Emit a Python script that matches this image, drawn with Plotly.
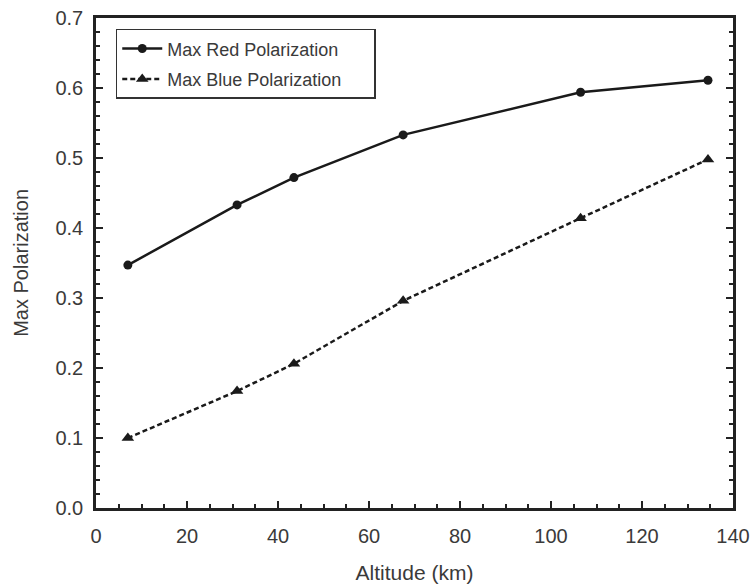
import plotly.graph_objects as go

altitude = [7, 31, 43.5, 67.5, 106.5, 134.5]
red_pol = [0.347, 0.433, 0.472, 0.533, 0.594, 0.611]
blue_pol = [0.100, 0.167, 0.206, 0.296, 0.414, 0.498]

font_fam = "Liberation Sans, Arial, sans-serif"
txt = "#3a3a3a"

fig = go.Figure()
fig.add_trace(go.Scatter(
    x=altitude, y=red_pol, name="Max Red Polarization\u00a0\u00a0\u00a0\u00a0\u00a0\u00a0", mode="lines+markers",
    legendgroup="red",
    line=dict(color="#1a1a1a", width=2.5), marker=dict(symbol="circle", size=9, color="#1a1a1a")))
fig.add_trace(go.Scatter(
    x=altitude, y=blue_pol, name="Max Blue Polarization\u00a0\u00a0\u00a0\u00a0\u00a0", mode="lines+markers",
    legendgroup="blue",
    line=dict(color="#1a1a1a", width=2.5, dash="5px,3px"),
    marker=dict(symbol="triangle-up", size=11, color="#1a1a1a")))

fig.update_layout(
    width=753, height=586,
    margin=dict(l=96, r=20, t=18, b=78),
    paper_bgcolor="white", plot_bgcolor="white",
    font=dict(family=font_fam, color=txt, size=20),
    legend=dict(x=0.031, y=0.978, xanchor="left", yanchor="top",
                bordercolor="#333", borderwidth=1.5, bgcolor="white",
                font=dict(size=18, color=txt), tracegroupgap=4,
                itemwidth=40),
    showlegend=True,
    annotations=[dict(text="Max Polarization", textangle=-90, xref="paper", yref="paper",
                      x=-0.118, y=0.5, xanchor="center", yanchor="middle", showarrow=False,
                      font=dict(size=20, color=txt))],
)
fig.update_xaxes(
    range=[0, 140], tickmode="linear", tick0=0, dtick=20, automargin=False,
    ticks="inside", ticklen=7, tickwidth=2, tickcolor="#222", ticklabelstandoff=8,
    ticklabeloverflow="allow",
    minor=dict(ticks="inside", ticklen=4, tickwidth=1.5, dtick=5, tickcolor="#222"),
    showline=True, linecolor="#222", linewidth=2.5, mirror=True,
    showgrid=False, zeroline=False,
    title=dict(text="Altitude (km)", font=dict(size=21, color=txt), standoff=20),
    tickfont=dict(size=20, color=txt),
)
fig.update_yaxes(
    range=[0, 0.7], tickmode="linear", tick0=0, dtick=0.1, tickformat=".1f", automargin=False,
    ticks="inside", ticklen=7, tickwidth=2, tickcolor="#222", ticklabelstandoff=6,
    ticklabeloverflow="allow",
    minor=dict(ticks="inside", ticklen=4, tickwidth=1.5, dtick=0.02, tickcolor="#222"),
    showline=True, linecolor="#222", linewidth=2.5, mirror="ticks",
    showgrid=False, zeroline=False,
    tickfont=dict(size=20, color=txt),
)

fig.write_html("out.html", config={"displayModeBar": False},
               post_script="document.body.style.margin='0';")
